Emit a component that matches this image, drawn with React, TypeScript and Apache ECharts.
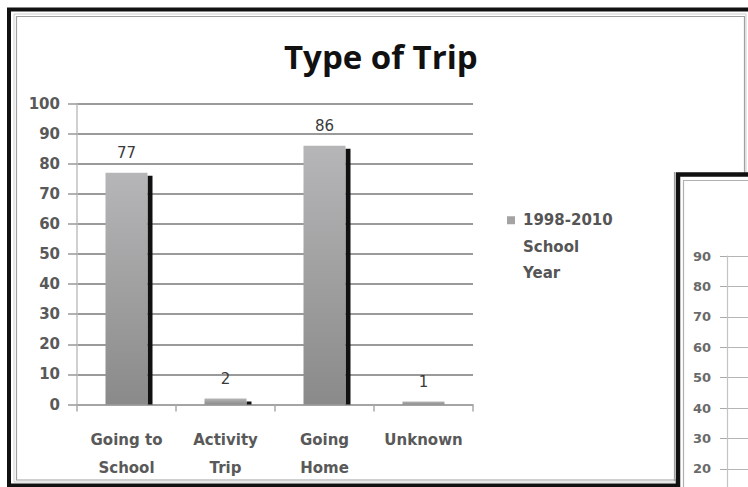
import React, { useEffect, useRef } from "react";
import * as echarts from "echarts";

const titleText = "Type of Trip";
const categories = ["Going to\nSchool", "Activity\nTrip", "Going\nHome", "Unknown"];
const values = [77, 2, 86, 1];
const seriesName = "1998-2010\nSchool\nYear";
const mainAxisMin = 0;
const mainAxisMax = 100;
const mainAxisStep = 10;
const insetAxisMin = 0;
const insetAxisMax = 90;
const insetAxisStep = 10;
const insetLowestVisibleLabel = 20;

const AXIS_FONT = "DejaVu Sans";

export default function App() {
  const ref = useRef<HTMLDivElement>(null);

  useEffect(() => {
    if (!ref.current) return;
    const chart = echarts.init(ref.current, null, { renderer: "svg" });

    const option: any = {
      animation: false,
      backgroundColor: "#ffffff",
      title: {
        text: titleText,
        left: 284,
        top: 40,
        padding: 0,
        textStyle: {
          fontFamily: "Open Sans",
          fontWeight: "bold",
          fontSize: 33,
          color: "#111111",
        },
      },
      legend: {
        left: 502,
        top: 149,
        icon: "path://M0,0L8,0L8,8L0,8Z",
        itemWidth: 14,
        itemHeight: 8,
        symbolKeepAspect: true,
        data: [{ name: seriesName, itemStyle: { color: "#a3a3a3" } }],
        formatter: (name: string) => "\n\n" + name,
        textStyle: {
          fontFamily: AXIS_FONT,
          fontWeight: "bold",
          fontSize: 15,
          color: "#555555",
          lineHeight: 26.5,
        },
      },
      grid: [
        { left: 77, top: 103.5, width: 396, height: 301, outerBoundsMode: "none" },
        { left: 727, top: 256, width: 40, height: 273.6, outerBoundsMode: "none" },
      ],
      xAxis: [
        {
          type: "category",
          gridIndex: 0,
          data: categories,
          axisLine: { show: true, lineStyle: { color: "#a8a8a8", width: 1.5 } },
          axisTick: { show: true, length: 7, lineStyle: { color: "#a8a8a8", width: 1.5 } },
          axisLabel: {
            interval: 0,
            hideOverlap: false,
            margin: 21,
            fontFamily: AXIS_FONT,
            fontWeight: "bold",
            fontSize: 15,
            color: "#595959",
            lineHeight: 28,
          },
        },
        { type: "value", gridIndex: 1, show: false, min: 0, max: 1 },
      ],
      yAxis: [
        {
          type: "value",
          gridIndex: 0,
          min: mainAxisMin,
          max: mainAxisMax,
          interval: mainAxisStep,
          axisLine: { show: true, lineStyle: { color: "#c0c0c0", width: 1.5 } },
          axisTick: { show: true, length: 9, lineStyle: { color: "#999999", width: 1.5 } },
          axisLabel: {
            margin: 17,
            fontFamily: AXIS_FONT,
            fontWeight: "bold",
            fontSize: 15,
            color: "#595959",
          },
          splitLine: { show: true, lineStyle: { color: "#9a9a9a", width: 1.8 } },
        },
        {
          type: "value",
          gridIndex: 1,
          min: insetAxisMin,
          max: insetAxisMax,
          interval: insetAxisStep,
          axisLine: { show: true, lineStyle: { color: "#c4c4c4", width: 1.2 } },
          axisTick: { show: true, length: 7, lineStyle: { color: "#aaaaaa", width: 1 } },
          axisLabel: {
            margin: 16,
            fontFamily: AXIS_FONT,
            fontWeight: "bold",
            fontSize: 13,
            color: "#6a6a6a",
            formatter: (v: number) => (v >= insetLowestVisibleLabel ? String(v) : ""),
          },
          splitLine: { show: true, lineStyle: { color: "#b5b5b5", width: 1.2 } },
        },
      ],
      graphic: [
        {
          type: "rect",
          z: -20,
          silent: true,
          shape: { x: 9, y: 9.5, width: 780, height: 476 },
          style: { fill: "none", stroke: "#111111", lineWidth: 4 },
        },
        {
          type: "rect",
          z: -19,
          silent: true,
          shape: { x: 14, y: 14, width: 732, height: 468 },
          style: { fill: "none", stroke: "#cfcfcf", lineWidth: 1 },
        },
        {
          type: "rect",
          z: -19,
          silent: true,
          shape: { x: 16.5, y: 16.5, width: 728, height: 463.5 },
          style: { fill: "none", stroke: "#a0a0a0", lineWidth: 1.2 },
        },
        {
          type: "line",
          z: -18,
          silent: true,
          shape: { x1: 674.5, y1: 172, x2: 674.5, y2: 481 },
          style: { stroke: "#a0a0a0", lineWidth: 1.2 },
        },
        {
          type: "rect",
          z: -10,
          silent: true,
          shape: { x: 678, y: 174.5, width: 120, height: 400 },
          style: { fill: "#ffffff", stroke: "#111111", lineWidth: 4.5 },
        },
        {
          type: "rect",
          z: -9,
          silent: true,
          shape: { x: 683.5, y: 180.5, width: 120, height: 400 },
          style: { fill: "none", stroke: "#b0b0b0", lineWidth: 1.2 },
        },
      ],
      series: [
        {
          type: "custom",
          xAxisIndex: 0,
          yAxisIndex: 0,
          z: 1,
          silent: true,
          data: values.map((v, i) => [i, v]),
          encode: { x: 0, y: 1 },
          renderItem: (params: any, api: any) => {
            const top = api.coord([api.value(0), api.value(1)]);
            const base = api.coord([api.value(0), 0]);
            const h = base[1] - top[1] - 3;
            return {
              type: "rect",
              shape: { x: top[0] + 21, y: top[1] + 3, width: 5, height: Math.max(h, 0) },
              style: { fill: "#111111" },
            };
          },
        },
        {
          name: seriesName,
          type: "bar",
          xAxisIndex: 0,
          yAxisIndex: 0,
          z: 2,
          barWidth: 42,
          data: values,
          itemStyle: {
            color: new echarts.graphic.LinearGradient(0, 0, 0, 1, [
              { offset: 0, color: "#b6b6b8" },
              { offset: 1, color: "#8a8a8a" },
            ]),
          },
          label: {
            show: true,
            position: "top",
            distance: 12,
            fontFamily: AXIS_FONT,
            fontSize: 15,
            color: "#3a3a3a",
          },
        },
      ],
    };

    chart.setOption(option);
    return () => chart.dispose();
  }, []);

  return (
    <div
      ref={ref}
      style={{ position: "fixed", left: 0, top: 0, width: 748, height: 487 }}
    />
  );
}
